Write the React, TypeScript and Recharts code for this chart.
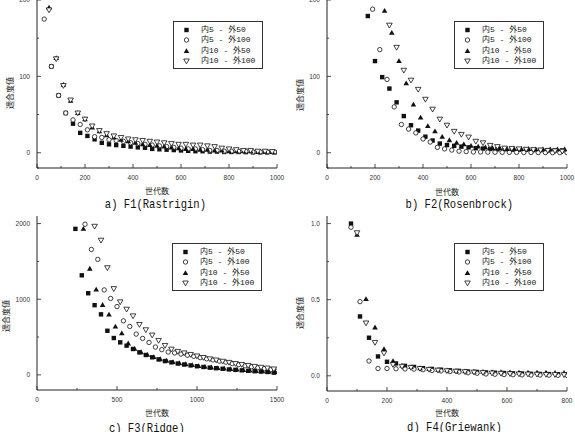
import { ScatterChart, Scatter, XAxis, YAxis, Legend } from "recharts"

const NAMES = ["内5 - 外50", "内5 - 外100", "内10 - 外50", "内10 - 外100"]
const KINDS = ["square", "circle", "triangle", "inverted"]

// a) F1 (Rastrigin)
const F1_X_SQ = [60, 90, 120, 150, 180, 210, 240, 270, 300, 330, 360, 390, 420, 450, 480, 510, 540, 570, 600, 630, 660, 690, 720, 750, 780, 810, 840, 870, 900, 930, 960, 990]
const F1_SQ = [113, 75, 52, 38, 26, 22, 17.5, 13, 11, 10, 9, 8, 7, 6.5, 5, 4.5, 4, 3.5, 3, 2.5, 2, 2, 1.5, 1.5, 1, 1, 1, 0.8, 0.6, 0.5, 0.5, 0.5]
const F1_X_CI = [30, 60, 90, 120, 150, 180, 210, 240, 270, 300, 330, 360, 390, 420, 450, 480, 510, 540, 570, 600, 630, 660, 690, 720, 750, 780, 810, 840, 870, 900, 930, 960, 990]
const F1_CI = [175, 113, 75, 52, 43, 37, 30, 21, 20, 17, 16, 15, 13, 12, 11, 10, 9, 8, 7, 6, 5, 5, 4, 3, 3, 2, 2, 2, 2, 1, 1, 1, 1]
const F1_X_TR = [50, 80, 110, 140, 170, 200, 230, 260, 290, 320, 350, 380, 410, 440, 470, 500, 530, 560, 590, 620, 650, 680, 710, 740, 770, 800, 830, 860, 890, 920, 950, 980]
const F1_TR = [190, 124, 89, 68, 52, 44, 33, 28, 23, 20, 17, 15, 13, 11, 10, 9, 8, 7, 6, 5, 5, 4, 4, 3, 3, 2, 2, 2, 2, 1, 1, 1]
const F1_IN = [187, 123, 88, 69, 52, 44, 35, 29, 25, 22, 20, 18, 17, 16, 15, 14, 13, 12, 11, 11, 10, 10, 9, 8, 6, 5, 4, 3, 3, 2, 2, 1.5]

// b) F2 (Rosenbrock)
const F2_X_SQ = [170, 200, 230, 260, 290, 320, 350, 380, 410, 440, 470, 500, 530, 560, 590, 620, 650, 680, 710, 740, 770, 800, 830, 860, 890, 920, 950, 980]
const F2_SQ = [179, 120, 99, 84, 66, 48, 36, 29, 21, 16, 12, 10, 9, 8, 7, 6, 5.5, 5, 4.5, 4.5, 4, 4, 4, 3.5, 3.5, 3, 3, 3]
const F2_X_CI = [190, 220, 250, 280, 310, 340, 370, 400, 430, 460, 490, 520, 550, 580, 610, 640, 670, 700, 730, 760, 790, 820, 850, 880, 910, 940, 970, 1000]
const F2_CI = [188, 135, 96, 60, 37, 31, 26, 18, 14, 7, 5, 3.5, 2, 1.5, 1, 1, 0.8, 0.6, 0.5, 0.5, 0.4, 0.3, 0.3, 0.2, 0.2, 0.1, 0.1, 0.1]
const F2_X_TR = [240, 270, 300, 330, 360, 390, 420, 450, 480, 510, 540, 570, 600, 630, 660, 690, 720, 750, 780, 810, 840, 870, 900, 930, 960, 990]
const F2_TR = [186, 157, 120, 91, 63, 46, 35, 28, 21, 16.5, 13, 11, 9, 8, 7, 6, 6, 5, 5, 5, 5, 4.5, 4.5, 4.5, 4.5, 4.5]
const F2_X_IN = [260, 290, 320, 350, 380, 410, 440, 470, 500, 530, 560, 590, 620, 650, 680, 710, 740, 770, 800, 830, 860, 890, 920, 950, 980]
const F2_IN = [167, 138, 108, 95, 83, 70, 57, 44, 36, 28, 24, 20.5, 15, 13, 9.6, 8, 6, 5.5, 5, 4.5, 4, 3.5, 3, 2.5, 2]

// c) F3 (Ridge)
const F3_X_SQ = [240, 280, 320, 360, 400, 440, 480, 520, 560, 600, 640, 680, 720, 760, 800, 840, 880, 920, 960, 1000, 1040, 1080, 1120, 1160, 1200, 1240, 1280, 1320, 1360, 1400, 1440, 1480]
const F3_SQ = [1930, 1316, 1079, 921, 800, 583, 487, 430, 386, 342, 298, 263, 232, 205, 182, 165, 150, 137, 125, 114, 104, 96, 88, 81, 72, 66, 60, 54, 48, 44, 38, 30]
const F3_X_CI = [300, 340, 380, 420, 460, 500, 540, 580, 620, 660, 700, 740, 780, 820, 860, 900, 940, 980, 1020, 1060, 1100, 1140, 1180, 1220, 1260, 1300, 1340, 1380, 1420, 1460, 1500]
const F3_CI = [1991, 1658, 1526, 1123, 1010, 903, 714, 640, 539, 482, 429, 368, 333, 302, 290, 275, 260, 245, 228, 212, 197, 182, 168, 150, 135, 120, 108, 95, 82, 68, 50]
const F3_X_TR = [290, 330, 370, 410, 450, 490, 530, 570, 610, 650, 690, 730, 770, 810, 850, 890, 930, 970, 1010, 1050, 1090, 1130, 1170, 1210, 1250, 1290, 1330, 1370, 1410, 1450, 1490]
const F3_TR = [1930, 1404, 1128, 925, 798, 640, 550, 416, 345, 300, 265, 235, 208, 188, 170, 155, 142, 130, 118, 108, 99, 91, 84, 76, 70, 64, 58, 52, 47, 42, 36]
const F3_X_IN = [360, 400, 440, 480, 520, 560, 600, 640, 680, 720, 760, 800, 840, 880, 920, 960, 1000, 1040, 1080, 1120, 1160, 1200, 1240, 1280, 1320, 1360, 1400, 1440, 1480]
const F3_IN = [1964, 1780, 1416, 1140, 965, 868, 780, 666, 596, 526, 455, 389, 340, 310, 290, 270, 250, 230, 212, 196, 180, 165, 150, 137, 124, 112, 100, 90, 78]

// d) F4 (Griewank)
const F4_X_A = [80, 110, 140, 170, 200, 230, 260, 290, 320, 350, 380, 410, 440, 470, 500, 530, 560, 590, 620, 650, 680, 710, 740, 770, 800]
const F4_SQ = [1.0, 0.39, 0.25, 0.127, 0.092, 0.081, 0.065, 0.058, 0.05, 0.045, 0.04, 0.036, 0.032, 0.028, 0.025, 0.022, 0.02, 0.018, 0.016, 0.015, 0.013, 0.012, 0.011, 0.01, 0.009]
const F4_CI = [0.976, 0.487, 0.097, 0.048, 0.048, 0.046, 0.045, 0.044, 0.04, 0.035, 0.032, 0.028, 0.025, 0.02, 0.017, 0.012, 0.01, 0.008, 0.007, 0.006, 0.005, 0.005, 0.004, 0.003, 0.003]
const F4_X_B = [100, 130, 160, 190, 220, 250, 280, 310, 340, 370, 400, 430, 460, 490, 520, 550, 580, 610, 640, 670, 700, 730, 760, 790]
const F4_TR = [0.926, 0.505, 0.318, 0.175, 0.097, 0.068, 0.058, 0.05, 0.045, 0.04, 0.036, 0.033, 0.03, 0.028, 0.026, 0.025, 0.024, 0.023, 0.022, 0.022, 0.021, 0.021, 0.02, 0.02]
const F4_IN = [0.94, 0.347, 0.219, 0.149, 0.074, 0.062, 0.055, 0.048, 0.042, 0.037, 0.033, 0.03, 0.027, 0.024, 0.021, 0.018, 0.016, 0.014, 0.012, 0.011, 0.01, 0.009, 0.008, 0.007]

const pts = (xs: number[], ys: number[]) => xs.map((x, i) => ({ x, y: ys[i] }))

const INK = "#222"
const TICK_MARGIN = 2

function Marker({ cx, cy, kind }: any) {
  if (cx == null || cy == null) return null
  if (kind === "square")
    return <rect x={cx - 2.2} y={cy - 2.2} width={4.4} height={4.4} fill="#111" />
  if (kind === "circle")
    return <circle cx={cx} cy={cy} r={2.2} fill="#fff" stroke="#111" strokeWidth={0.8} />
  if (kind === "triangle")
    return <polygon points={`${cx},${cy - 2.8} ${cx - 2.8},${cy + 2} ${cx + 2.8},${cy + 2}`} fill="#111" />
  return (
    <polygon
      points={`${cx},${cy + 2.8} ${cx - 2.8},${cy - 2} ${cx + 2.8},${cy - 2}`}
      fill="#fff"
      stroke="#111"
      strokeWidth={0.8}
    />
  )
}

function XTick({ x, y, payload, major, fmt }: any) {
  const big = major.includes(payload.value)
  const y0 = y - TICK_MARGIN
  return (
    <g>
      <line x1={x} x2={x} y1={y0} y2={y0 - (big ? 4 : 2)} stroke={INK} strokeWidth={0.8} />
      {big && (
        <text x={x} y={y0 + 12} textAnchor="middle" fontSize={6.5} fill="#333" fontFamily="Liberation Sans">
          {fmt(payload.value)}
        </text>
      )}
    </g>
  )
}

function YTick({ x, y, payload, major, fmt }: any) {
  const big = major.includes(payload.value)
  const x0 = x + TICK_MARGIN
  return (
    <g>
      <line x1={x0} x2={x0 + (big ? 4 : 2)} y1={y} y2={y} stroke={INK} strokeWidth={0.8} />
      {big && (
        <text x={x0 - 7} y={y + 2.3} textAnchor="end" fontSize={6.5} fill="#333" fontFamily="Liberation Sans">
          {fmt(payload.value)}
        </text>
      )}
    </g>
  )
}

function LegendBox({ w, h }: { w: number; h: number }) {
  return (
    <div
      style={{
        width: w,
        height: h,
        boxSizing: "border-box",
        border: "1px solid #333",
        background: "#fff",
        paddingTop: 3,
      }}
    >
      {NAMES.map((n, i) => (
        <div key={n} style={{ display: "flex", alignItems: "center", height: 10.3 }}>
          <svg width={27} height={10} style={{ flex: "none" }}>
            <Marker cx={12.5} cy={5} kind={KINDS[i]} />
          </svg>
          <span
            style={{
              fontFamily: "'Liberation Mono', 'Noto Sans CJK JP'",
              fontSize: 8,
              color: "#111",
              whiteSpace: "pre",
              lineHeight: "10px",
            }}
          >
            {n}
          </span>
        </div>
      ))}
    </div>
  )
}

interface PanelProps {
  left: number
  top: number
  width: number
  axisY: number
  series: { x: number; y: number }[][]
  xDomain: [number, number]
  yDomain: [number, number]
  xTicks: number[]
  xMajor: number[]
  yTicks: number[]
  yMajor: number[]
  yFmt: (v: number) => string
  legend: { left: number; top: number }
  title: string
  titleX: number
  titleY: number
  xLabelY: number
  yLabel: { x: number; y: number }
}

function Panel(p: PanelProps) {
  const chartH = 200
  const fmtX = (v: number) => String(v)
  return (
    <div style={{ position: "absolute", left: p.left, top: p.top, width: p.width, height: 216 }}>
      <ScatterChart width={p.width} height={chartH} margin={{ top: 0, right: p.width - 277, bottom: 0, left: 0 }}>
        <XAxis
          type="number"
          dataKey="x"
          domain={p.xDomain}
          allowDataOverflow
          ticks={p.xTicks}
          interval={0}
          height={chartH - p.axisY}
          tickSize={0}
          tickMargin={TICK_MARGIN}
          axisLine={{ stroke: INK, strokeWidth: 1 }}
          tick={<XTick major={p.xMajor} fmt={fmtX} />}
        />
        <YAxis
          type="number"
          dataKey="y"
          domain={p.yDomain}
          allowDataOverflow
          ticks={p.yTicks}
          interval={0}
          width={37}
          tickSize={0}
          tickMargin={TICK_MARGIN}
          axisLine={{ stroke: INK, strokeWidth: 1 }}
          tick={<YTick major={p.yMajor} fmt={p.yFmt} />}
        />
        <Legend
          layout="vertical"
          align="center"
          verticalAlign="middle"
          wrapperStyle={{ left: p.legend.left, top: p.legend.top, width: 90, height: 48 }}
          content={() => <LegendBox w={90} h={48} />}
        />
        {p.series.map((d, i) => (
          <Scatter
            key={NAMES[i]}
            name={NAMES[i]}
            data={d}
            isAnimationActive={false}
            shape={(sp: any) => <Marker cx={sp.cx} cy={sp.cy} kind={KINDS[i]} />}
          />
        ))}
      </ScatterChart>
      <div
        style={{
          position: "absolute",
          left: 157 - 30,
          width: 60,
          top: p.xLabelY - 6,
          textAlign: "center",
          fontFamily: "'Noto Sans CJK JP'",
          fontSize: 8,
          lineHeight: "12px",
          color: "#222",
        }}
      >
        世代数
      </div>
      <div
        style={{
          position: "absolute",
          left: p.yLabel.x - 25,
          top: p.yLabel.y - 6,
          width: 50,
          height: 12,
          transform: "rotate(-90deg)",
          textAlign: "center",
          fontFamily: "'Noto Sans CJK JP'",
          fontSize: 8,
          lineHeight: "12px",
          color: "#222",
        }}
      >
        適合度値
      </div>
      <div
        style={{
          position: "absolute",
          left: p.titleX - 80,
          width: 160,
          top: p.titleY - 8,
          textAlign: "center",
          lineHeight: "16px",
        }}
      >
        <span
          style={{
            display: "inline-block",
            fontFamily: "'Liberation Mono'",
            fontSize: 13,
            color: "#111",
            whiteSpace: "pre",
            transform: "scaleX(0.81)",
          }}
        >
          {p.title}
        </span>
      </div>
    </div>
  )
}

const X1000 = [0, 100, 200, 300, 400, 500, 600, 700, 800, 900, 1000]
const X1000_MAJOR = [0, 200, 400, 600, 800, 1000]
const Y200 = [-20, 0, 50, 100, 150, 200]
const Y200_MAJOR = [0, 100, 200]
const X1500 = [0, 250, 500, 750, 1000, 1250, 1500]
const X1500_MAJOR = [0, 500, 1000, 1500]
const Y2000 = [0, 500, 1000, 1500, 2000]
const Y2000_MAJOR = [0, 1000, 2000]
const X800 = [0, 100, 200, 300, 400, 500, 600, 700, 800]
const X800_MAJOR = [0, 200, 400, 600, 800]
const Y1 = [0, 0.25, 0.5, 0.75, 1]
const Y1_MAJOR = [0, 0.5, 1]

export default function App() {
  const intFmt = (v: number) => String(v)
  return (
    <div
      style={{
        position: "fixed",
        left: 0,
        top: 0,
        width: 575,
        height: 432,
        background: "#fff",
        overflow: "hidden",
      }}
    >
      <Panel
        left={0}
        top={0}
        width={287}
        axisY={168}
        series={[pts(F1_X_SQ, F1_SQ), pts(F1_X_CI, F1_CI), pts(F1_X_TR, F1_TR), pts(F1_X_TR, F1_IN)]}
        xDomain={[0, 1000]}
        yDomain={[-20, 200]}
        xTicks={X1000}
        xMajor={X1000_MAJOR}
        yTicks={Y200}
        yMajor={Y200_MAJOR}
        yFmt={intFmt}
        legend={{ left: 173, top: 21 }}
        title="a) F1(Rastrigin)"
        titleX={155}
        titleY={203}
        xLabelY={191}
        yLabel={{ x: 10, y: 93 }}
      />
      <Panel
        left={290}
        top={0}
        width={285}
        axisY={168}
        series={[pts(F2_X_SQ, F2_SQ), pts(F2_X_CI, F2_CI), pts(F2_X_TR, F2_TR), pts(F2_X_IN, F2_IN)]}
        xDomain={[0, 1000]}
        yDomain={[-20, 200]}
        xTicks={X1000}
        xMajor={X1000_MAJOR}
        yTicks={Y200}
        yMajor={Y200_MAJOR}
        yFmt={intFmt}
        legend={{ left: 164, top: 21 }}
        title="b) F2(Rosenbrock)"
        titleX={169}
        titleY={203}
        xLabelY={192}
        yLabel={{ x: 10, y: 95 }}
      />
      <Panel
        left={0}
        top={216}
        width={287}
        axisY={174}
        series={[pts(F3_X_SQ, F3_SQ), pts(F3_X_CI, F3_CI), pts(F3_X_TR, F3_TR), pts(F3_X_IN, F3_IN)]}
        xDomain={[0, 1500]}
        yDomain={[-200, 2100]}
        xTicks={X1500}
        xMajor={X1500_MAJOR}
        yTicks={Y2000}
        yMajor={Y2000_MAJOR}
        yFmt={intFmt}
        legend={{ left: 172, top: 27 }}
        title="c) F3(Ridge)"
        titleX={147}
        titleY={211}
        xLabelY={197}
        yLabel={{ x: 6, y: 100 }}
      />
      <Panel
        left={290}
        top={216}
        width={285}
        axisY={175}
        series={[pts(F4_X_A, F4_SQ), pts(F4_X_A, F4_CI), pts(F4_X_B, F4_TR), pts(F4_X_B, F4_IN)]}
        xDomain={[0, 800]}
        yDomain={[-0.1, 1.05]}
        xTicks={X800}
        xMajor={X800_MAJOR}
        yTicks={Y1}
        yMajor={Y1_MAJOR}
        yFmt={(v: number) => v.toFixed(1)}
        legend={{ left: 164, top: 27 }}
        title="d) F4(Griewank)"
        titleX={165}
        titleY={210}
        xLabelY={197}
        yLabel={{ x: 10, y: 97 }}
      />
    </div>
  )
}
